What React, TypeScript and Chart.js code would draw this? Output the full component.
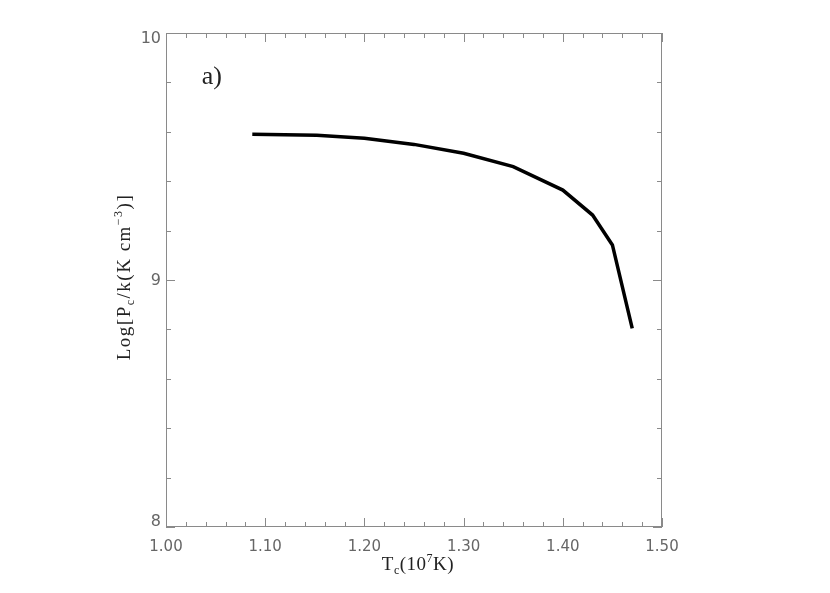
import React, { useEffect, useRef } from "react";
import { Chart, registerables } from "chart.js";

Chart.register(...registerables);

// ---- data ----
const temperatures = [1.087, 1.152, 1.2, 1.25, 1.3, 1.35, 1.4, 1.43, 1.45, 1.47];
const logPressure = [9.59, 9.586, 9.574, 9.549, 9.513, 9.459, 9.364, 9.263, 9.142, 8.804];

const xTickValues = [1.0, 1.1, 1.2, 1.3, 1.4, 1.5];
const xTickLabels = ["1.00", "1.10", "1.20", "1.30", "1.40", "1.50"];
const yTickValues = [8, 9, 10];
const yTickLabels = ["8", "9", "10"];
const xMinorStep = 0.02;
const yMinorStep = 0.2;

const panelLabel = "a)";

type Part = { text: string; size: number; dy: number };
const SERIF = "'Liberation Serif', 'DejaVu Serif', serif";

function drawRich(ctx: any, parts: Part[], x: number, y: number, spacing: number) {
  ctx.letterSpacing = `${spacing}px`;
  let total = 0;
  const widths = parts.map((p) => {
    ctx.font = `${p.size}px ${SERIF}`;
    const w = ctx.measureText(p.text).width;
    total += w;
    return w;
  });
  let cx = x - total / 2;
  ctx.textAlign = "left";
  ctx.textBaseline = "alphabetic";
  parts.forEach((p, i) => {
    ctx.font = `${p.size}px ${SERIF}`;
    ctx.fillText(p.text, cx, y + p.dy);
    cx += widths[i];
  });
  ctx.letterSpacing = "0px";
}

const framePlugin = {
  id: "frameTicks",
  afterDraw(chart: any) {
    const { ctx, chartArea } = chart;
    const xs = chart.scales.x;
    const ys = chart.scales.y;
    const { left, right, top, bottom } = chartArea;
    ctx.save();
    ctx.strokeStyle = "#8a8a8a";
    ctx.lineWidth = 1;
    ctx.strokeRect(left + 0.5, top + 0.5, right - left - 1, bottom - top - 1);

    const major = 9;
    const minor = 5;
    ctx.beginPath();
    const nx = Math.round((xs.max - xs.min) / xMinorStep);
    for (let i = 0; i <= nx; i++) {
      const v = xs.min + i * xMinorStep;
      const px = Math.round(xs.getPixelForValue(v)) + 0.5;
      const len = i % 5 === 0 ? major : minor;
      ctx.moveTo(px, bottom);
      ctx.lineTo(px, bottom - len);
      ctx.moveTo(px, top);
      ctx.lineTo(px, top + len);
    }
    const ny = Math.round((ys.max - ys.min) / yMinorStep);
    for (let i = 0; i <= ny; i++) {
      const v = ys.min + i * yMinorStep;
      const py = Math.round(ys.getPixelForValue(v)) + 0.5;
      const len = i % 5 === 0 ? major : minor;
      ctx.moveTo(left, py);
      ctx.lineTo(left + len, py);
      ctx.moveTo(right, py);
      ctx.lineTo(right - len, py);
    }
    ctx.stroke();

    // y tick labels (IDL keeps the end labels inside the axis span)
    ctx.fillStyle = "#666";
    ctx.font = "16px 'DejaVu Sans', sans-serif";
    ctx.textAlign = "right";
    ctx.textBaseline = "middle";
    yTickValues.forEach((v, i) => {
      let py = ys.getPixelForValue(v);
      if (v === ys.max) py += 6;
      else if (v === ys.min) py -= 5;
      else py += 1;
      ctx.fillText(yTickLabels[i], left - 5, py);
    });

    // axis titles
    ctx.fillStyle = "#222";
    const cxPlot = (left + right) / 2;
    const cyPlot = (top + bottom) / 2;
    drawRich(
      ctx,
      [
        { text: "T", size: 19, dy: 0 },
        { text: "c", size: 12, dy: 4 },
        { text: "(10", size: 19, dy: 0 },
        { text: "7", size: 12, dy: -8 },
        { text: "K)", size: 19, dy: 0 },
      ],
      cxPlot + 4,
      bottom + 43,
      0.5
    );
    ctx.save();
    ctx.translate(130, cyPlot - 3);
    ctx.rotate(-Math.PI / 2);
    drawRich(
      ctx,
      [
        { text: "Log[P", size: 19, dy: 0 },
        { text: "c", size: 12, dy: 4 },
        { text: "/k(K cm", size: 19, dy: 0 },
        { text: "\u22123", size: 12, dy: -8 },
        { text: ")]", size: 19, dy: 0 },
      ],
      0,
      0,
      1.5
    );
    ctx.restore();

    // panel label
    ctx.font = `26px ${SERIF}`;
    ctx.textAlign = "left";
    ctx.textBaseline = "alphabetic";
    ctx.fillText(panelLabel, xs.getPixelForValue(1.036), ys.getPixelForValue(9.795));
    ctx.restore();
  },
};

export default function App() {
  const ref = useRef<HTMLCanvasElement | null>(null);
  useEffect(() => {
    if (!ref.current) return;
    const chart = new Chart(ref.current, {
      type: "line",
      data: {
        datasets: [
          {
            data: temperatures.map((t, i) => ({ x: t, y: logPressure[i] })),
            borderColor: "#000",
            borderWidth: 3.5,
            pointRadius: 0,
            tension: 0,
            fill: false,
          },
        ],
      },
      options: {
        responsive: false,
        animation: false,
        layout: { padding: { left: 0, top: 33, right: 168, bottom: 0 } },
        plugins: { legend: { display: false }, tooltip: { enabled: false } },
        scales: {
          x: {
            type: "linear",
            min: 1.0,
            max: 1.5,
            grid: { display: false, drawTicks: false },
            border: { display: false },
            afterBuildTicks: (s: any) => {
              s.ticks = xTickValues.map((v) => ({ value: v }));
            },
            afterFit: (s: any) => {
              s.height = 66;
            },
            ticks: {
              padding: 11,
              color: "#666",
              maxRotation: 0,
              font: { family: "'DejaVu Sans', sans-serif", size: 15 },
              callback: (v: any) => {
                const i = xTickValues.findIndex((t) => Math.abs(t - Number(v)) < 1e-6);
                return i >= 0 ? xTickLabels[i] : "";
              },
            },
          },
          y: {
            type: "linear",
            min: 8,
            max: 10,
            grid: { display: false, drawTicks: false },
            border: { display: false },
            afterBuildTicks: (s: any) => {
              s.ticks = yTickValues.map((v) => ({ value: v }));
            },
            afterFit: (s: any) => {
              s.width = 166;
            },
            ticks: { display: false },
          },
        },
      },
      plugins: [framePlugin],
    });
    return () => chart.destroy();
  }, []);
  return (
    <div style={{ position: "absolute", left: 0, top: 0, width: 830, height: 593, background: "#fff" }}>
      <canvas ref={ref} width={830} height={593} />
    </div>
  );
}
